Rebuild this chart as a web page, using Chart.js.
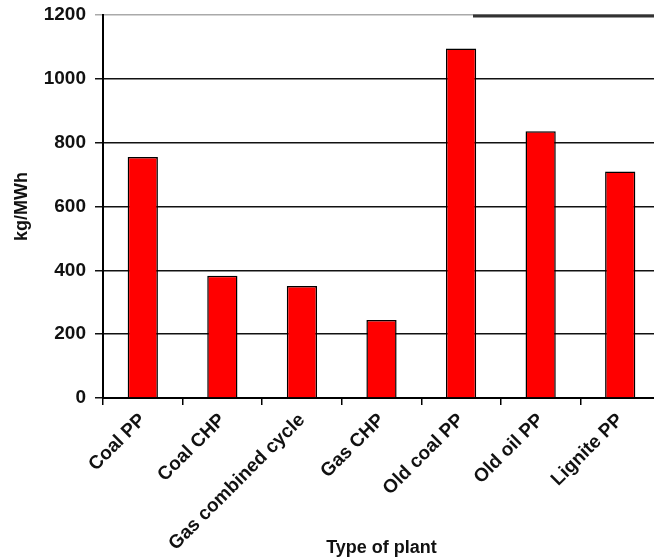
<!DOCTYPE html>
<html>
<head>
<meta charset="utf-8">
<script src="https://cdn.jsdelivr.net/npm/chart.js@4.4.1/dist/chart.umd.min.js"></script>
<style>
  html, body { margin: 0; padding: 0; background: #fff; overflow: hidden; }
  #wrap { width: 664px; height: 560px; }
</style>
</head>
<body>
<div id="wrap"><canvas id="plantChart" width="664" height="560"></canvas></div>
<script>
var plants = ["Coal PP", "Coal CHP", "Gas combined cycle", "Gas CHP", "Old coal PP", "Old oil PP", "Lignite PP"];
var emissions = [755, 383, 351, 244, 1095, 836, 710];
var yTicks = [0, 200, 400, 600, 800, 1000, 1200];

// thick dark line on the right part of the top border, as in the scanned figure
var topLinePlugin = {
    id: 'topLine',
    afterDraw: function(chart) {
        var y = chart.scales.y.getPixelForValue(1200);
        var c = chart.ctx;
        c.save();
        c.strokeStyle = '#333';
        c.lineWidth = 3;
        c.beginPath();
        c.moveTo(473, y + 1);
        c.lineTo(chart.width, y + 1);
        c.stroke();
        c.restore();
    }
};

var font = { family: 'Liberation Sans, Arial, sans-serif', size: 19, weight: 'bold' };
var titleFont = { family: 'Liberation Sans, Arial, sans-serif', size: 18, weight: 'bold' };

try {
    var ctx = document.getElementById("plantChart");
    if (ctx) {
        var myChart = new Chart(ctx, {
            type: 'bar',
            data: {
                labels: plants,
                datasets: [{
                    label: "kg/MWh",
                    data: emissions,
                    backgroundColor: "#ff0000",
                    borderColor: "#000",
                    borderWidth: 1.5,
                    barPercentage: 0.38,
                    categoryPercentage: 1
                }]
            },
            plugins: [topLinePlugin],
            options: {
                responsive: false,
                animation: false,
                layout: { padding: { top: 0, right: 4, left: 0, bottom: 0 } },
                plugins: {
                    legend: { display: false },
                    tooltip: { enabled: false }
                },
                scales: {
                    x: {
                        offset: true,
                        grid: {
                            offset: true,
                            drawOnChartArea: false,
                            color: '#000',
                            lineWidth: 1.5,
                            tickLength: 7
                        },
                        border: { display: true, color: '#000', width: 2 },
                        ticks: {
                            color: '#111',
                            font: font,
                            maxRotation: 45,
                            minRotation: 45,
                            autoSkip: false,
                            padding: 4
                        },
                        title: {
                            display: true,
                            text: 'Type of plant',
                            color: '#111',
                            font: titleFont,
                            padding: { top: 0, bottom: 1 }
                        },
                        afterFit: function(scale) { scale.height = 162; }
                    },
                    y: {
                        min: 0,
                        max: 1200,
                        afterBuildTicks: function(scale) {
                            scale.ticks = yTicks.map(function(v) { return { value: v }; });
                        },
                        grid: {
                            color: function(c) { return c.tick && c.tick.value === 1200 ? '#aaa' : '#111'; },
                            lineWidth: 1.5,
                            tickLength: 8
                        },
                        border: { display: true, color: '#000', width: 2 },
                        ticks: {
                            color: '#111',
                            font: font,
                            padding: 9,
                            callback: function(v) { return String(v); }
                        },
                        title: {
                            display: true,
                            text: 'kg/MWh',
                            color: '#111',
                            font: { family: 'Liberation Sans, Arial, sans-serif', size: 18, weight: 'bold' },
                            padding: { top: 11, bottom: 0 }
                        },
                        afterFit: function(scale) {
                            scale.width = 103;
                            scale.paddingTop = 15;
                        }
                    }
                }
            }
        });
    }
} catch (error) {
    console.log(error);
}
</script>
</body>
</html>
